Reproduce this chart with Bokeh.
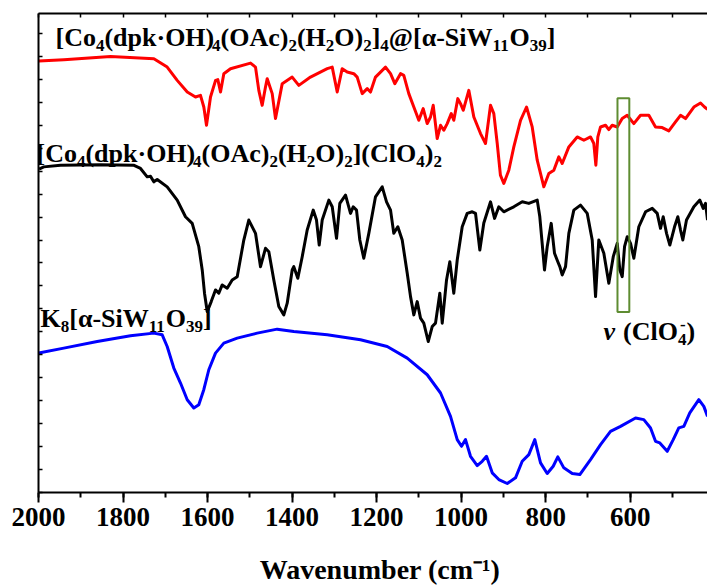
from bokeh.plotting import figure
from bokeh.models import Range1d, LinearAxis, SingleIntervalTicker, Label
from bokeh.embed import file_html
from bokeh.resources import INLINE

# ---------------- data ----------------
red_w = [1999.3, 1940, 1829.6, 1727, 1695.5, 1671.8, 1648, 1628.5, 1616.7, 1608.8, 1602.5, 1593,
         1581, 1575.7, 1569.3, 1561.5, 1545.7, 1498.3, 1486.5, 1478.7, 1470.7, 1462.9, 1458.8, 1447,
         1439.2, 1423.3, 1399.7, 1384, 1356.4, 1316.8, 1305, 1293.2, 1281.4, 1269.5, 1253.9, 1245.9,
         1234, 1222.2, 1214.4, 1202.6, 1178.9, 1167, 1156.9, 1143.4, 1135.6, 1123.8, 1111.9, 1100.1,
         1089.7, 1080.2, 1072.4, 1066, 1056.6, 1048.7, 1041, 1032.9, 1023.4, 1017.3, 1007.8, 1001.4,
         995, 981.8, 969.9, 954.1, 942.3, 930.4, 922.6, 914.6, 907, 899, 887.1, 875.3, 859.4, 845.2,
         831.8, 819.9, 804.3, 792.5, 780.6, 768.8, 760.8, 745.1, 725.3, 709.6, 693.8, 686, 681.2,
         676.5, 670.1, 658.3, 650.5, 642.5, 630.6, 618.8, 607, 591.3, 575.5, 555.8, 540, 524.2,
         508.5, 492.7, 480.8, 469, 449.3, 433.5, 424, 417]
red_t = [432.3, 433.7, 437, 434.7, 426.3, 413, 401.3, 396.3, 398, 386.3, 368, 396.3,
         413, 413.7, 401.3, 419.7, 424.7, 430.3, 426.3, 403, 388, 406.3, 414.7, 399.7,
         374.7, 409.7, 416.3, 408, 416.3, 424.7, 426.3, 401.3, 424.7, 421.3, 419.7, 416.3,
         399.7, 404.7, 401.3, 416.3, 426.3, 419.7, 409.7, 419.7, 418, 399.7, 386.3, 373,
         384.7, 369.7, 376.3, 388, 354.7, 368, 363, 369.7, 379.7, 373, 394.7, 389.7,
         383, 403, 376.3, 359.7, 349.7, 388, 379.7, 350, 318, 309.7, 323, 346.3, 373, 386.3,
         366.3, 333, 306.3, 319.7, 323, 336.3, 329.7, 346.3, 356.3, 353, 356.3, 349.7, 328,
         356.3, 366.3, 368, 363.7, 368, 366.3, 374.7, 378, 369.7, 378, 378, 366.3, 365.7,
         362.3, 371.3, 378, 374.7, 386.3, 390.3, 386.3, 384]

black_w = [1998.8, 1987.5, 1947.9, 1853.3, 1775.2, 1758.6, 1742.8, 1735, 1727.2, 1719.1, 1695.5,
           1671.8, 1652.2, 1636.3, 1620.7, 1612.6, 1607.2, 1600.8, 1591.3, 1581.2, 1573.4, 1565.3,
           1553.5, 1541.7, 1529.8, 1514.2, 1502.4, 1486.5, 1474.7, 1462.9, 1455, 1443.2, 1431.4,
           1419.5, 1411.5, 1399.7, 1395.9, 1386.4, 1376, 1364.2, 1350, 1342.2, 1335.8, 1328.7, 1313,
           1305, 1294.8, 1287, 1273.5, 1261.7, 1255.3, 1247.5, 1239.7, 1230.3, 1218.4, 1202.6,
           1186.7, 1176.5, 1167, 1159.3, 1149.8, 1139.4, 1127.5, 1119.7, 1111.9, 1103.9, 1096.1,
           1088.3, 1077.8, 1068.4, 1060.6, 1050.4, 1044.7, 1034.5, 1026.7, 1017.3, 1009.2, 997.4,
           985.6, 973.7, 965.9, 955.7, 946.3, 930.4, 920.9, 910.8, 899, 875.3, 855.4, 839.8, 819.9,
           813.8, 808.2, 802.7, 796.3, 786.8, 779, 771.2, 766.4, 760.8, 752.9, 745.1, 733.3, 717.5,
           701.6, 689.8, 681.9, 674.2, 662.3, 650.5, 640, 630.6, 624.4, 618.8, 613.3, 606.9, 599.1,
           591.3, 579.5, 563.6, 547.8, 536, 528.2, 521.8, 513.9, 506.1, 495, 487.2, 480.8, 475.4,
           466.7, 449.3, 435.2, 427.1, 421.7, 416.9]
black_t = [324, 326.3, 328, 328.5, 328, 324.7, 316.3, 317, 311.3, 313.7, 306.3,
           293, 276.3, 269.7, 246.3, 223, 199.7, 181.3, 191.3, 203, 199.7, 208,
           204.7, 213, 216.3, 253, 273, 259.7, 226.3, 244.7, 241.3, 213, 186.3,
           178, 189.7, 223, 226.3, 214.7, 236.3, 263, 283, 273, 248, 273, 293,
           286.3, 254.7, 289.7, 298, 279.7, 286.3, 283, 253, 234.7, 259.7, 296.3,
           306.3, 291.3, 283, 259.7, 266.3, 253, 219.7, 196.3, 178, 191.3, 174.7,
           169.7, 151.3, 166.3, 169.7, 199.7, 169.7, 213, 231.3, 199.7, 233, 266.3,
           279.7, 281.3, 279.7, 243, 270, 291.3, 274.7, 286.3, 281.3, 286.3, 291.3, 289.7, 293,
           276.3, 249.7, 223, 246.3, 269.7, 239.7, 231.3, 226.3, 218, 226.3, 259.7, 283, 288,
           279.7, 253, 196.3, 253, 239.7, 209.7, 236.3, 249.7, 223, 216.3, 246.3, 256.3, 249.7,
           234.7, 266.3, 281.3, 284.7, 279.7, 264.7, 276.3, 259.7, 248, 266.3, 276.3, 263, 253,
           273, 286.3, 293, 284.7, 289.7, 273]

blue_w = [1999.3, 1940.1, 1861.1, 1782.3, 1727.2, 1707.3, 1695.5, 1679.8, 1664, 1648.1, 1632.5,
          1620.7, 1608.9, 1597, 1581.2, 1561.5, 1529.8, 1482.5, 1435.2, 1395.9, 1316.8, 1238.1,
          1174.9, 1127.5, 1080.2, 1048.7, 1025.1, 1009.2, 999.1, 989.6, 977.8, 961.9, 950.1, 939.9,
          926.4, 910.8, 890.9, 871.3, 855.4, 839.8, 825.6, 812.1, 796.3, 782.1, 771.2, 757, 737.1,
          719.1, 693.8, 670.1, 646.5, 622.8, 587.3, 567.7, 551.8, 540, 529.8, 512.3, 498.1, 484.9,
          473, 458.9, 437.5, 425.7, 416.9]
blue_t = [139.7, 144.7, 151.3, 157, 159.7, 158, 146.3, 124.7, 109.7, 93, 84.7,
          88, 103, 123, 139.7, 149.7, 154.7, 159.7, 163.7, 161.3, 158, 153,
          146.3, 134.7, 118, 99.7, 76.3, 53, 46.3, 53, 36.3, 27, 31.3, 36.3,
          19.7, 13, 9, 14.7, 31.3, 38, 53, 29.7, 19, 26.3, 35.7, 24.7, 19,
          18, 33, 48, 61.3, 66.3, 74.7, 73, 64.7, 51.3, 49.7, 41.3, 53, 64.7,
          66.3, 79.7, 93, 86.3, 76.3]

clo4_box = dict(left=630, right=602, bottom=181, top=395)   # v(ClO4-) marker, cm-1 / offset units
x_start, x_end = 2000, 417
x_title = "\u00a0\u00a0Wavenumber (cm\u207b\u00b9)"

# label texts: (text, kind) kind: n=normal, s=subscript, q=superscript over last subscript,
# i=italic, g=gap (space)
label_red = [("[Co", "n"), ("4", "s"), ("(dpk\u00b7OH)", "n"), ("4", "s"), ("(OAc)", "n"), ("2", "s"),
             ("(H", "n"), ("2", "s"), ("O)", "n"), ("2", "s"), ("]", "n"), ("4", "s"),
             ("@[\u03b1-SiW", "n"), ("11", "s"), ("O", "n"), ("39", "s"), ("]", "n")]
label_black = [("[Co", "n"), ("4", "s"), ("(dpk\u00b7OH)", "n"), ("4", "s"), ("(OAc)", "n"), ("2", "s"),
               ("(H", "n"), ("2", "s"), ("O)", "n"), ("2", "s"), ("](ClO", "n"), ("4", "s"),
               (")", "n"), ("2", "s")]
label_blue = [("K", "n"), ("8", "s"), ("[\u03b1-SiW", "n"), ("11", "s"), ("O", "n"), ("39", "s"), ("]", "n")]
label_clo4 = [("\u03bd", "i"), (" ", "g"), ("(ClO", "n"), ("4", "s"), ("-", "q"), (")", "n")]

# ---------------- figure ----------------
FONT = "Liberation Serif"
W, H = 707, 587
L, T, B = 38, 13, 94
FW, FH = W - L, H - T - B

p = figure(width=W, height=H, x_range=Range1d(x_start, x_end), y_range=Range1d(0, FH),
           output_backend="svg", toolbar_location=None,
           min_border_left=L, min_border_right=0, min_border_top=T, min_border_bottom=B)
p.outline_line_color = None
p.xgrid.visible = False
p.ygrid.visible = False

xa = p.xaxis[0]
xa.ticker = SingleIntervalTicker(interval=200, num_minor_ticks=2)
xa.axis_line_width = 2
xa.major_tick_line_width = 2
xa.minor_tick_line_width = 2
xa.major_tick_in = 0
xa.major_tick_out = 10
xa.minor_tick_in = 0
xa.minor_tick_out = 5
xa.major_label_standoff = 5
xa.major_label_text_font = FONT
xa.major_label_text_font_style = "bold"
xa.major_label_text_font_size = "27px"
xa.major_label_text_color = "black"
xa.axis_label = x_title
xa.axis_label_text_font = FONT
xa.axis_label_text_font_style = "bold"
xa.axis_label_text_font_size = "28px"
xa.axis_label_text_color = "black"
xa.axis_label_standoff = 25

ya = p.yaxis[0]
ya.ticker = SingleIntervalTicker(interval=23, num_minor_ticks=0)
ya.axis_line_width = 2
ya.major_tick_line_width = 1.5
ya.major_tick_in = 4
ya.major_tick_out = 0
ya.minor_tick_line_color = None
ya.major_label_text_color = None
ya.major_label_text_font_size = "1px"
ya.major_label_standoff = 0

top = LinearAxis(ticker=SingleIntervalTicker(interval=100, num_minor_ticks=0),
                 axis_line_width=2, major_tick_line_width=1.5, major_tick_in=4, major_tick_out=0,
                 minor_tick_line_color=None, major_label_text_color=None,
                 major_label_text_font_size="1px", major_label_standoff=0)
p.add_layout(top, "above")

# spectra
p.line(red_w, red_t, line_color="#ff0000", line_width=3, line_join="round")
p.line(black_w, black_t, line_color="#000000", line_width=3, line_join="round")
p.line(blue_w, blue_t, line_color="#0000ff", line_width=3, line_join="round")

p.quad(left=[clo4_box["left"]], right=[clo4_box["right"]], bottom=[clo4_box["bottom"]],
       top=[clo4_box["top"]], fill_color=None, line_color="#5e8c31", line_width=2)

# ---------------- rich text labels ----------------
WID = {'[': 333, ']': 333, '(': 333, ')': 333, 'C': 722, 'o': 500, 'd': 556, 'p': 556, 'k': 556,
       '\u00b7': 250, 'O': 778, 'H': 778, 'A': 722, 'c': 444, '@': 930, '\u03b1': 560, '-': 333,
       'S': 556, 'i': 278, 'W': 1000, 'K': 778, 'l': 278, ' ': 250, '\u03bd': 500}
CENTER_SHIFT = 0.3375   # label y is the vertical centre of the text box


def text_w(s, size):
    return sum(WID.get(ch, 500) for ch in s) * size / 1000.0


def px_x(ox):
    return x_start - (ox - L) * (x_start - x_end) / FW


def px_y(oy):
    return (H - B) - oy


def put(text, ox, base, fs, style):
    p.add_layout(Label(x=px_x(ox), y=px_y(base - CENTER_SHIFT * fs), text=text, text_font=FONT,
                       text_font_size=f"{fs}px", text_font_style=style, text_color="black",
                       text_baseline="middle", text_align="left", level="overlay"))


def rich(pieces, ox, base, size, sub, drop=5, rise=10):
    x = ox
    last_sub = 0
    for text, kind in pieces:
        if kind == "g":
            x += text_w(text, size)
        elif kind in ("n", "i"):
            put(text, x, base, size, "bold italic" if kind == "i" else "bold")
            x += text_w(text, size)
        elif kind == "s":
            put(text, x, base + drop, sub, "bold")
            last_sub = text_w(text, sub)
            x += last_sub
        else:  # superscript stacked over the preceding subscript
            put(text, x - last_sub + 2, base - rise, sub, "bold")
            x += max(0, text_w(text, sub) + 2 - last_sub)


rich(label_red, 55, 46, 26, 17)
rich(label_black, 36, 162, 26, 17)
rich(label_blue, 40, 327, 26, 17)
rich(label_clo4, 603, 340, 26, 17)

open("out.html", "w").write(file_html(p, INLINE))
